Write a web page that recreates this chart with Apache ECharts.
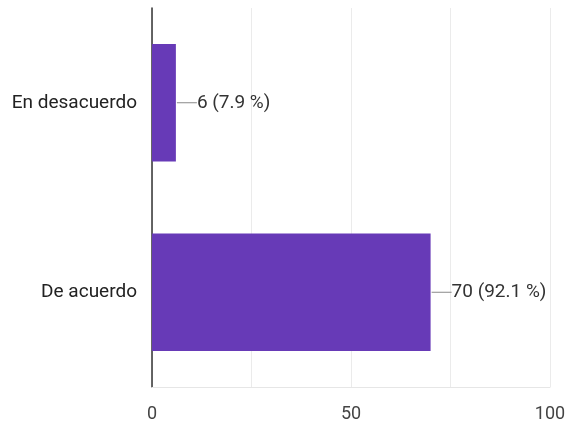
<!DOCTYPE html>
<html><head><meta charset="utf-8">
<script src="https://cdn.jsdelivr.net/npm/echarts@6/dist/echarts.min.js"></script>
<style>html,body{margin:0;padding:0;background:#fff}#c{width:569px;height:424px}</style>
</head><body><div id="c"></div>
<script>
const categories = ["En desacuerdo", "De acuerdo"];
const counts = [6, 70];
const percents = ["7.9", "92.1"];
const xTicks = [0, 50, 100];

const chart = echarts.init(document.getElementById('c'));
chart.setOption({
  animation: false,
  grid: { left: 152, right: 19, top: 8, bottom: 37, containLabel: false },
  xAxis: {
    type: 'value', min: 0, max: 100, interval: 25,
    axisLine: { show: true, lineStyle: { color: '#e6e6e6' } },
    axisTick: { show: false },
    splitLine: { show: true, lineStyle: { color: '#ebebeb' } },
    axisLabel: {
      color: '#444', fontFamily: 'Roboto', fontSize: 18, margin: 18,
      formatter: v => xTicks.includes(v) ? String(v) : ''
    }
  },
  yAxis: {
    type: 'category', data: categories, inverse: true,
    axisLine: { show: true, lineStyle: { color: '#333', width: 1.5 } },
    axisTick: { show: false },
    axisLabel: { color: '#222', fontFamily: 'Roboto', fontSize: 19, margin: 15 }
  },
  series: [{
    type: 'bar',
    data: counts,
    barWidth: '62%',
    itemStyle: { color: '#673ab7' },
    label: {
      show: true, position: 'right', distance: 1,
      formatter: p => '{l|}{t|' + counts[p.dataIndex] + ' (' + percents[p.dataIndex] + ' %)}',
      rich: {
        l: { width: 20, height: 1, backgroundColor: '#888' },
        t: { color: '#333', fontFamily: 'Roboto', fontSize: 19 }
      }
    }
  }]
});
</script></body></html>
